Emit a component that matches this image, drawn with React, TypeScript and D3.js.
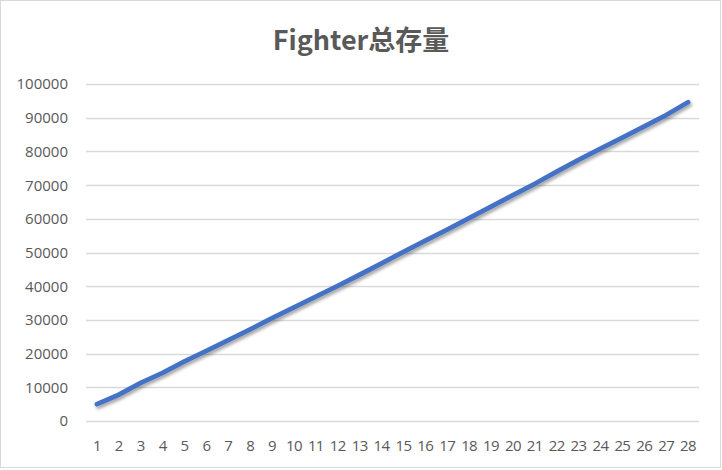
import React from "react";
import * as d3 from "d3";

const title = "Fighter总存量";
const categories = Array.from({ length: 28 }, (_, i) => String(i + 1));
const values = [
  5000, 7800, 11300, 14300, 17700, 20800, 24000, 27200, 30500, 33700,
  36900, 40100, 43400, 46800, 50200, 53500, 56800, 60200, 63600, 67000,
  70400, 74000, 77500, 80800, 84100, 87400, 90800, 94600,
];
const yTicks = [0, 10000, 20000, 30000, 40000, 50000, 60000, 70000, 80000, 90000, 100000];

const W = 722;
const H = 470;
const left = 86;
const right = 699;
const top = 84;
const bottom = 421;

export default function App() {
  const x = d3.scaleBand<string>().domain(categories).range([left, right]);
  const y = d3.scaleLinear().domain([0, 100000]).range([bottom, top]);
  const line = d3
    .line<number>()
    .x((_, i) => (x(categories[i]) as number) + x.bandwidth() / 2)
    .y((d) => y(d));
  const font = "'Open Sans', 'Liberation Sans', sans-serif";
  return (
    <div style={{ position: "absolute", left: 0, top: 0 }}>
      <svg width={W} height={H} style={{ display: "block" }}>
        <defs>
          <filter id="sh" x="-10%" y="-10%" width="120%" height="130%">
            <feDropShadow dx="1.5" dy="2.5" stdDeviation="1.5" floodColor="#000" floodOpacity="0.35" />
          </filter>
        </defs>
        <rect x={0} y={0} width={W} height={H} fill="#fff" />
        <rect x={0.5} y={0.5} width={W - 2} height={H - 3} fill="none" stroke="#d9d9d9" strokeWidth={1} />
        <text
          x={361}
          y={50}
          textAnchor="middle"
          fontFamily="'Noto Sans CJK SC', 'Open Sans', sans-serif"
          fontWeight="bold"
          fontSize={27}
          fill="#595959"
        >
          {title}
        </text>
        {yTicks.map((t) => (
          <g key={t}>
            <line x1={left} x2={right} y1={Math.round(y(t)) + 0.5} y2={Math.round(y(t)) + 0.5} stroke="#d9d9d9" strokeWidth={1.3} />
            <text x={68} y={y(t)} dy="0.36em" textAnchor="end" fontFamily={font} fontSize={15} fill="#595959">
              {t}
            </text>
          </g>
        ))}
        {categories.map((c) => (
          <text
            key={c}
            x={(x(c) as number) + x.bandwidth() / 2}
            y={446}
            dy="0.36em"
            textAnchor="middle"
            fontFamily={font}
            fontSize={15}
            letterSpacing={-0.6}
            fill="#595959"
          >
            {c}
          </text>
        ))}
        <path
          d={line(values) || ""}
          fill="none"
          stroke="#4472C4"
          strokeWidth={4.8}
          strokeLinecap="round"
          strokeLinejoin="round"
          filter="url(#sh)"
        />
      </svg>
    </div>
  );
}
